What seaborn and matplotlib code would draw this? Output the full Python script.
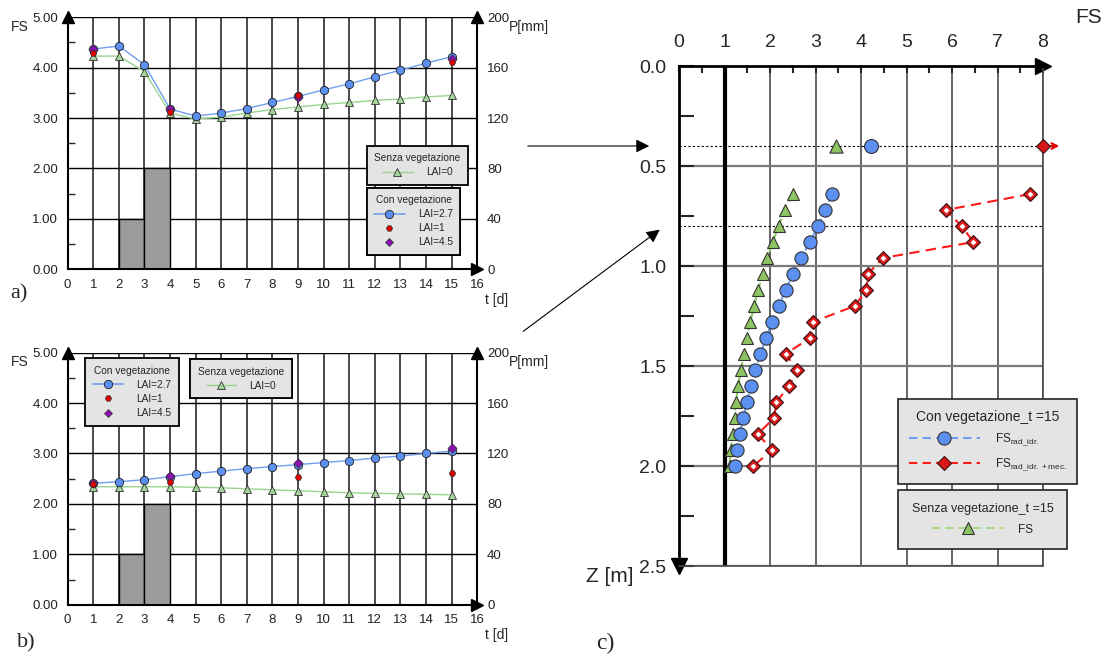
import numpy as np
import matplotlib
matplotlib.use("Agg")
import matplotlib.pyplot as plt
from matplotlib.lines import Line2D
import seaborn as sns

# ---- a) / b) : FS vs time (t = 1..15 days) ----
days = [1, 2, 3, 4, 5, 6, 7, 8, 9, 10, 11, 12, 13, 14, 15]
fs_a_lai27 = [4.37, 4.43, 4.06, 3.18, 3.04, 3.10, 3.19, 3.31, 3.43, 3.56, 3.68, 3.82, 3.95, 4.09, 4.22]
fs_a_lai0 = [4.23, 4.23, 3.92, 3.10, 2.98, 3.02, 3.10, 3.17, 3.22, 3.27, 3.31, 3.35, 3.38, 3.42, 3.45]
fs_b_lai27 = [2.41, 2.44, 2.48, 2.54, 2.60, 2.65, 2.70, 2.74, 2.78, 2.82, 2.86, 2.91, 2.95, 3.00, 3.05]
fs_b_lai0 = [2.34, 2.34, 2.34, 2.34, 2.33, 2.32, 2.30, 2.28, 2.26, 2.24, 2.22, 2.21, 2.20, 2.19, 2.18]

days_sparse = [1, 4, 9, 15]
fs_a_lai1 = [4.30, 3.13, 3.45, 4.11]
fs_a_lai45 = [4.37, 3.19, 3.41, 4.17]
fs_b_lai1 = [2.39, 2.44, 2.53, 2.61]
fs_b_lai45 = [2.42, 2.55, 2.82, 3.11]

# rainfall P [mm] (bars from day start)
rain_start = [2, 3]
rain_mm = [40, 80]

# ---- c) : FS profile vs depth at t = 15 ----
depth = [0.64, 0.72, 0.80, 0.88, 0.96, 1.04, 1.12, 1.20, 1.28,
         1.36, 1.44, 1.52, 1.60, 1.68, 1.76, 1.84, 1.92, 2.00]
fs_c_idr = [3.36, 3.21, 3.06, 2.87, 2.69, 2.51, 2.34, 2.19, 2.05,
            1.91, 1.79, 1.68, 1.58, 1.49, 1.41, 1.34, 1.27, 1.22]
fs_c_mec = [7.72, 5.86, 6.21, 6.47, 4.48, 4.15, 4.12, 3.86, 2.94,
            2.88, 2.34, 2.60, 2.42, 2.14, 2.09, 1.73, 2.05, 1.63]
fs_c_noveg = [2.50, 2.32, 2.19, 2.06, 1.94, 1.84, 1.74, 1.65, 1.57,
              1.49, 1.43, 1.36, 1.30, 1.25, 1.22, 1.18, 1.14, 1.11]
depth_top = [0.4]
fs_top_idr = [4.23]
fs_top_mec = [8.0]
fs_top_noveg = [3.46]

sns.set_style("white")
plt.rcParams["font.family"] = ["Liberation Sans", "DejaVu Sans"]
plt.rcParams["mathtext.fontset"] = "custom"
plt.rcParams["mathtext.rm"] = "Liberation Sans"

BLUE_LINE = "#6f9ff0"
BLUE_FACE = "#5b8ff0"
GREEN_LINE = "#9ad48f"
GREEN_FACE = "#a6d49a"
LEG_FACE = "#e4e4e4"

fig = plt.figure(figsize=(11.11, 6.57), dpi=100)


def time_panel(rect, fs27, fs0, fs1, fs45, tag, tag_xy, legends):
    axp = fig.add_axes(rect)
    axf = axp.twinx()
    axp.yaxis.tick_right()
    axf.yaxis.tick_left()

    # rainfall bars on the P axis (below)
    axp.bar(rain_start, rain_mm, width=1, align="edge", color="#9b9b9b",
            edgecolor="black", linewidth=1, zorder=2)
    axp.set_xlim(0, 16)
    axp.set_ylim(0, 200)
    axp.set_xticks(range(17))
    axp.set_yticks(range(0, 201, 40))
    axp.grid(axis="x", color="#3c3c3c", lw=1.3)
    axp.grid(axis="y", color="black", lw=1)
    axp.set_axisbelow(True)
    axp.tick_params(length=0, labelsize=9.5, colors="#222", pad=7)
    for s in ["left", "bottom", "right"]:
        axp.spines[s].set_color("black")
        axp.spines[s].set_linewidth(1.5)
    axp.spines["top"].set_visible(False)

    # FS series (on top)
    sns.lineplot(x=days, y=fs0, ax=axf, color=GREEN_LINE, lw=1, marker="^",
                 markersize=5.5, markerfacecolor=GREEN_FACE, markeredgecolor="#333",
                 markeredgewidth=0.6, legend=False, zorder=3)
    sns.lineplot(x=days, y=fs27, ax=axf, color=BLUE_LINE, lw=1, marker="o",
                 markersize=6, markerfacecolor=BLUE_FACE, markeredgecolor="#222",
                 markeredgewidth=0.6, legend=False, zorder=4)
    sns.scatterplot(x=days_sparse, y=fs45, ax=axf, marker="D", s=22, color="#8a10b0",
                    edgecolor="#333", linewidth=0.5, legend=False, zorder=5)
    sns.scatterplot(x=days_sparse, y=fs1, ax=axf, marker="H", s=22, color="#e00000",
                    edgecolor="#333", linewidth=0.5, legend=False, zorder=6)
    axf.set_ylim(0, 5)
    axf.set_yticks(range(6))
    axf.set_yticks(np.arange(0.5, 5, 1), minor=True)
    axf.yaxis.set_major_formatter("{x:.2f}")
    axf.tick_params(which="major", length=0, labelsize=9.5, colors="#222", pad=7)
    axf.tick_params(which="minor", direction="in", length=5, width=1, left=True, right=False)
    for s in axf.spines.values():
        s.set_visible(False)

    # axis arrows
    axp.plot([0], [1], marker="^", ms=8, color="k", transform=axp.transAxes, clip_on=False)
    axp.plot([1], [1], marker="^", ms=8, color="k", transform=axp.transAxes, clip_on=False)
    axp.plot([1], [0], marker=">", ms=8, color="k", transform=axp.transAxes, clip_on=False)

    axf.text(-0.118, 0.962, "FS", transform=axf.transAxes, fontsize=10, ha="center", va="center")
    axf.text(1.127, 0.962, "P[mm]", transform=axf.transAxes, fontsize=10, ha="center", va="center")
    axf.text(1.048, -0.122, "t [d]", transform=axf.transAxes, fontsize=10, ha="center", va="center")
    fig.text(tag_xy[0], tag_xy[1], tag, fontsize=16, family="Liberation Serif",
             ha="center", va="center")

    h_lai0 = Line2D([], [], color=GREEN_LINE, lw=1, marker="^", ms=5.5,
                    mfc=GREEN_FACE, mec="#333", mew=0.6)
    h_lai27 = Line2D([], [], color=BLUE_LINE, lw=1.2, marker="o", ms=6,
                     mfc=BLUE_FACE, mec="#222", mew=0.6)
    h_lai1 = Line2D([], [], ls="none", marker="H", ms=4.5, mfc="#e00000", mec="#333", mew=0.5)
    h_lai45 = Line2D([], [], ls="none", marker="D", ms=4.2, mfc="#8a10b0", mec="#333", mew=0.5)
    groups = {
        "senza": ([h_lai0], ["LAI=0"], "Senza vegetazione"),
        "con": ([h_lai27, h_lai1, h_lai45], ["LAI=2.7", "LAI=1", "LAI=4.5"], "Con vegetazione"),
    }
    for key, anchor in legends:
        hs, ls, title = groups[key]
        leg = axf.legend(hs, ls, title=title, loc="upper left", bbox_to_anchor=anchor,
                         bbox_transform=fig.transFigure, fontsize=7.3, title_fontsize=7.3,
                         frameon=True, fancybox=False, facecolor=LEG_FACE, edgecolor="black",
                         framealpha=1, handlelength=3.0, handletextpad=1.3,
                         borderpad=0.75, labelspacing=0.4, numpoints=1, borderaxespad=0)
        leg.get_frame().set_linewidth(1.3)
        leg.set_zorder(10)
        axf.add_artist(leg)
    return axp, axf


time_panel([0.0609, 0.5901, 0.3687, 0.3836], fs_a_lai27, fs_a_lai0, fs_a_lai1, fs_a_lai45,
           "a)", (0.017, 1 - 294 / 657),
           [("senza", (0.330, 1 - 145.7 / 657)), ("con", (0.330, 1 - 187.7 / 657))])
time_panel([0.0609, 0.0796, 0.3687, 0.3836], fs_b_lai27, fs_b_lai0, fs_b_lai1, fs_b_lai45,
           "b)", (0.024, 1 - 643 / 657),
           [("con", (85.3 / 1111, 1 - 358.3 / 657)), ("senza", (190.3 / 1111, 1 - 359 / 657))])

# ---- c) depth profile ----
axc = fig.add_axes([0.6112, 0.1385, 0.3276, 0.761])
axc.set_xlim(0, 8)
axc.set_ylim(2.5, 0)
axc.xaxis.tick_top()
axc.set_xticks(range(9))
axc.set_xticks(np.arange(0.5, 8, 1), minor=True)
axc.set_yticks(np.arange(0, 2.51, 0.5))
axc.set_yticks(np.arange(0.25, 2.5, 0.5), minor=True)
axc.yaxis.set_major_formatter("{x:.1f}")
axc.grid(axis="x", color="#4a4a4a", lw=1.2)
axc.grid(axis="y", color="#7a7a7a", lw=1.6)
axc.set_axisbelow(True)
axc.tick_params(axis="x", which="both", direction="in", length=5, width=1.5,
                top=True, bottom=False, labelsize=14, pad=11)
axc.tick_params(axis="y", which="both", direction="in", length=11, width=1.5,
                left=True, labelsize=14, pad=9)
for s in ["top", "left"]:
    axc.spines[s].set_color("black")
    axc.spines[s].set_linewidth(2)
for s in ["bottom", "right"]:
    axc.spines[s].set_color("#4a4a4a")
    axc.spines[s].set_linewidth(1.2)

axc.axvline(1, color="black", lw=3, zorder=2)
axc.axhline(0.4, color="black", lw=0.8, ls=(0, (2, 2)), zorder=2)
axc.axhline(0.8, color="black", lw=0.8, ls=(0, (2, 2)), zorder=2)

sns.lineplot(x=fs_c_noveg, y=depth, ax=axc, orient="y", estimator=None, color="#8ccf66",
             lw=1.5, ls=(0, (4, 2.5)), marker="^", markersize=9, markerfacecolor="#8dc462",
             markeredgecolor="#333", markeredgewidth=0.8, legend=False, zorder=4)
sns.lineplot(x=fs_c_idr, y=depth, ax=axc, orient="y", estimator=None, color=BLUE_LINE,
             lw=1.5, ls=(0, (4, 2.5)), marker="o", markersize=9.5, markerfacecolor=BLUE_FACE,
             markeredgecolor="#333", markeredgewidth=0.8, legend=False, zorder=5)
sns.lineplot(x=fs_c_mec, y=depth, ax=axc, orient="y", estimator=None, color="#ff1a1a",
             lw=1.5, ls=(0, (5, 3)), marker="D", markersize=7, markerfacecolor="#d81818",
             markeredgecolor="#3a1010", markeredgewidth=0.8, legend=False, zorder=6)
sns.scatterplot(x=fs_c_mec, y=depth, ax=axc, marker="D", s=13, color="white",
                edgecolor="#d81818", linewidth=0.6, legend=False, zorder=7)

sns.scatterplot(x=fs_top_noveg, y=depth_top, ax=axc, marker="^", s=90, color="#8dc462",
                edgecolor="#333", linewidth=0.8, legend=False, zorder=5)
sns.scatterplot(x=fs_top_idr, y=depth_top, ax=axc, marker="o", s=100, color=BLUE_FACE,
                edgecolor="#333", linewidth=0.8, legend=False, zorder=5)
sns.scatterplot(x=fs_top_mec, y=depth_top, ax=axc, marker="D", s=50, color="#d81818",
                edgecolor="#3a1010", linewidth=0.8, legend=False, zorder=6, clip_on=False)
axc.annotate("", xy=(fs_top_mec[0] + 0.42, depth_top[0]), xytext=(fs_top_mec[0], depth_top[0]),
             arrowprops=dict(arrowstyle="->", color="#e00000", lw=1.5), annotation_clip=False)

axc.plot([1], [1], marker=">", ms=11, color="k", transform=axc.transAxes, clip_on=False)
axc.plot([0], [0], marker="v", ms=11, color="k", transform=axc.transAxes, clip_on=False)
axc.set_xlabel("")
axc.set_ylabel("")
axc.text(1.124, 1.098, "FS", transform=axc.transAxes, fontsize=15, ha="center", va="center")
axc.text(-0.19, -0.02, "Z [m]", transform=axc.transAxes, fontsize=15, ha="center", va="center")
fig.text(605 / 1111, 1 - 643 / 657, "c)", fontsize=17, family="Liberation Serif",
         ha="center", va="center")

h_idr = Line2D([], [], color=BLUE_LINE, lw=1.5, ls=(0, (4, 2.5)), marker="o", ms=9.5,
               mfc=BLUE_FACE, mec="#333", mew=0.8)
h_mec = Line2D([], [], color="#ff1a1a", lw=1.5, ls=(0, (4, 2.5)), marker="D", ms=7,
               mfc="#d81818", mec="#3a1010", mew=0.8)
h_fs = Line2D([], [], color="#a8d888", lw=1.5, ls=(0, (4, 2.5)), marker="^", ms=9,
              mfc="#8dc462", mec="#333", mew=0.8)
leg_kw = dict(loc="upper left", bbox_transform=fig.transFigure, fontsize=8.5,
              frameon=True, fancybox=False, facecolor=LEG_FACE,
              edgecolor="#333", framealpha=1, handlelength=6.0, handletextpad=1.3,
              labelspacing=0.7, numpoints=1, borderaxespad=0)
leg_c1 = axc.legend([h_idr, h_mec], [r"FS$_{\rm rad\_idr.}$", r"FS$_{\rm rad\_idr.+mec.}$"],
                    title="Con vegetazione_t =15", title_fontsize=10, borderpad=0.9,
                    bbox_to_anchor=(898.3 / 1111, 1 - 399 / 657), **leg_kw)
leg_c1.get_frame().set_linewidth(1.3)
axc.add_artist(leg_c1)
leg_c2 = axc.legend([h_fs], ["FS"], title="Senza vegetazione_t =15", title_fontsize=9,
                    borderpad=1.15,
                    bbox_to_anchor=(898.3 / 1111, 1 - 489.7 / 657), **leg_kw)
leg_c2.get_frame().set_linewidth(1.3)

# connecting arrows between panels
fig.patches.append(matplotlib.patches.FancyArrowPatch(
    (525 / 1111, 1 - 146 / 657), (652 / 1111, 1 - 146 / 657), transform=fig.transFigure,
    arrowstyle="-|>", mutation_scale=20, color="black", lw=0.8))
fig.patches.append(matplotlib.patches.FancyArrowPatch(
    (521 / 1111, 1 - 333 / 657), (662 / 1111, 1 - 228 / 657), transform=fig.transFigure,
    arrowstyle="-|>", mutation_scale=20, color="black", lw=0.8))

fig.savefig("out.png", dpi=100, facecolor="white")
